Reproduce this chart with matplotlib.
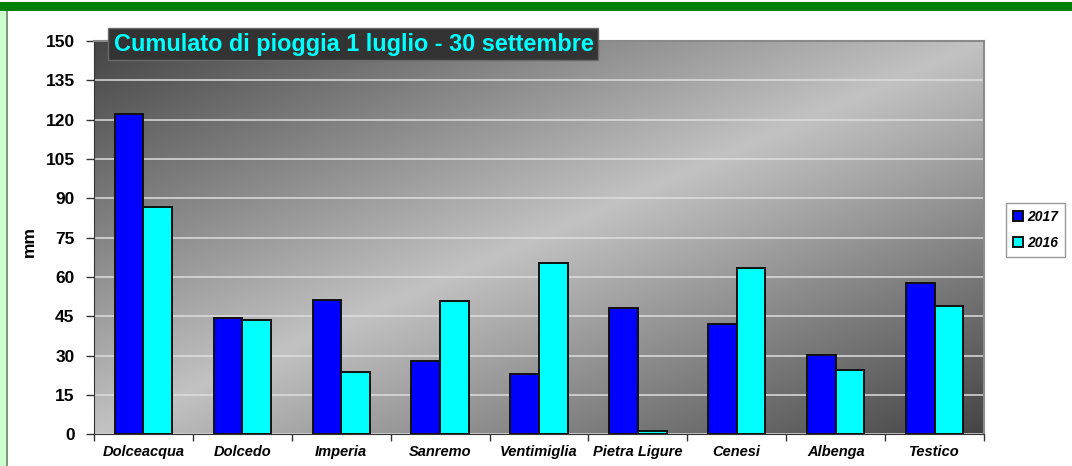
import numpy as np
import matplotlib
matplotlib.use("Agg")
import matplotlib.pyplot as plt
from matplotlib.patches import Rectangle
from matplotlib.colors import LinearSegmentedColormap

plt.rcParams['font.family'] = ['Liberation Sans', 'DejaVu Sans']

categories = ["Dolceacqua", "Dolcedo", "Imperia", "Sanremo", "Ventimiglia",
              "Pietra Ligure", "Cenesi", "Albenga", "Testico"]
series_names = ["2017", "2016"]
values_2017 = [122.3, 44.3, 51.3, 28.0, 22.9, 48.1, 42.0, 30.4, 57.7]
values_2016 = [86.5, 43.5, 23.9, 50.8, 65.3, 1.3, 63.6, 24.7, 48.9]
y_ticks = [0, 15, 30, 45, 60, 75, 90, 105, 120, 135, 150]
title = "Cumulato di pioggia 1 luglio - 30 settembre"
y_label = "mm"

W, H = 1072, 466
fig = plt.figure(figsize=(W / 100, H / 100), dpi=100)
fig.patch.set_facecolor("white")

# decorative frame: green top bar and left strip
fig.patches.append(Rectangle((0, 1 - 10.5 / H), 1, 8.5 / H, transform=fig.transFigure,
                             facecolor="#008000", edgecolor="none", zorder=0))
fig.patches.append(Rectangle((0, 0), 6 / W, 1 - 11 / H, transform=fig.transFigure,
                             facecolor="#ccffcc", edgecolor="none", zorder=0))
fig.patches.append(Rectangle((6 / W, 0), 1.6 / W, 1 - 11 / H, transform=fig.transFigure,
                             facecolor="#7a9a7a", edgecolor="none", zorder=0))

left, right = 94 / W, 984 / W
bottom, top = (H - 434.3) / H, (H - 41) / H
ax = fig.add_axes([left, bottom, right - left, top - bottom])

# gradient background
nx, ny = 300, 150
u = np.linspace(0, 1, nx)[None, :]
v = np.linspace(0, 1, ny)[:, None]
t = np.abs(u + v - 1)
cmap = LinearSegmentedColormap.from_list("g", ["#c2c2c2", "#454545"])
ax.imshow(t, cmap=cmap, vmin=0, vmax=1, extent=[0, 1, 0, 1], transform=ax.transAxes,
          aspect="auto", zorder=0, interpolation="bilinear")

n = len(categories)
x = np.arange(n)
bw = 0.29
ax.bar(x - bw / 2, values_2017, bw, color="#0000ff", edgecolor="#111111", linewidth=1.4,
       label=series_names[0], zorder=3)
ax.bar(x + bw / 2, values_2016, bw, color="#00ffff", edgecolor="#111111", linewidth=1.4,
       label=series_names[1], zorder=3)

ax.set_xlim(-0.5, n - 0.5)
ax.set_ylim(0, 150)
ax.set_yticks(y_ticks)
ax.set_yticklabels([str(v_) for v_ in y_ticks], fontsize=12.5, fontweight="bold")
ax.yaxis.grid(True, color="#dedede", linewidth=1.1, zorder=1)
ax.set_axisbelow(True)

ax.set_xticks(x)
ax.set_xticklabels(categories, fontsize=10.5, fontweight="bold", fontstyle="italic")
ax.set_xticks(np.arange(n + 1) - 0.5, minor=True)
ax.tick_params(axis="x", which="major", length=0, pad=8)
ax.tick_params(axis="x", which="minor", length=5, width=1, color="#333333", direction="out")
ax.tick_params(axis="y", length=6, width=1, color="#333333", direction="out", pad=8)

for s in ["top", "right"]:
    ax.spines[s].set_color("#8a8a8a")
    ax.spines[s].set_linewidth(1.5)
ax.spines["left"].set_color("#333333")
ax.spines["bottom"].set_color("#333333")

ax.set_ylabel(y_label, fontsize=12.5, fontweight="bold")
ax.yaxis.set_label_coords((37 - 94) / 890, 0.49)

# title box
fig.patches.append(Rectangle((108 / W, (H - 59.5) / H), 490 / W, 31.5 / H,
                             transform=fig.transFigure, facecolor="#333333",
                             edgecolor="#6a6a6a", linewidth=1, zorder=5))
fig.text(353.5 / W, (H - 44) / H, title, color="#00ffff", fontsize=16.9, fontweight="bold",
         ha="center", va="center", zorder=6)

leg = ax.legend(loc="center left", bbox_to_anchor=(1006 / W, (H - 230) / H),
                bbox_transform=fig.transFigure, frameon=True, fancybox=False,
                prop={"weight": "bold", "style": "italic", "size": 10},
                handlelength=0.7, handleheight=0.7, handletextpad=0.3,
                labelspacing=0.85, borderpad=0.5, borderaxespad=0)
leg.get_frame().set_edgecolor("#808080")
leg.get_frame().set_linewidth(1)

fig.savefig("out.png", dpi=100)
